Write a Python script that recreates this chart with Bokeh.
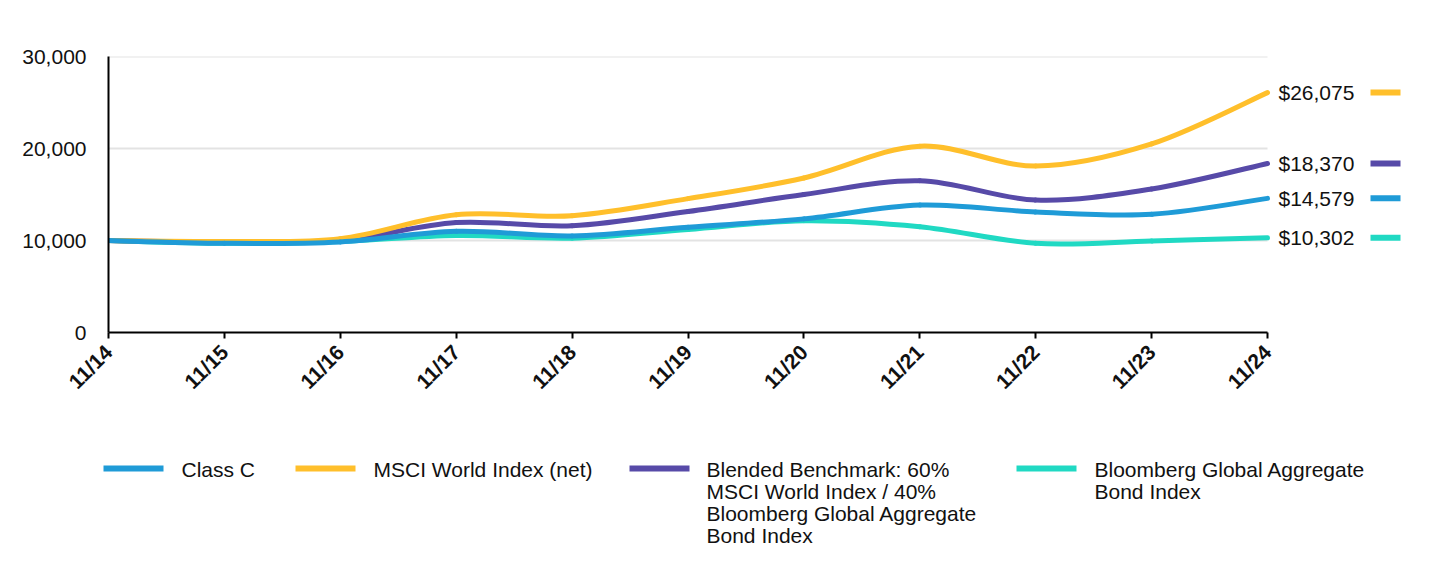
import math
from bokeh.plotting import figure
from bokeh.layouts import column
from bokeh.models import Range1d, FixedTicker, NumeralTickFormatter
from bokeh.core.properties import value
from bokeh.embed import file_html
from bokeh.resources import INLINE

# ---------------- data ----------------
dates = ["11/14", "11/15", "11/16", "11/17", "11/18", "11/19", "11/20", "11/21", "11/22", "11/23", "11/24"]
class_c = [10000, 9700, 9850, 11000, 10500, 11450, 12350, 13850, 13100, 12850, 14579]
msci_world = [10000, 9900, 10200, 12800, 12700, 14550, 16800, 20250, 18100, 20500, 26075]
blended = [10000, 9800, 10000, 11950, 11600, 13150, 15000, 16500, 14400, 15600, 18370]
bloomberg = [10000, 9700, 9900, 10550, 10250, 11200, 12150, 11500, 9700, 9950, 10302]
y_ticks = [0, 10000, 20000, 30000]

series_names = [
    "Class C",
    "MSCI World Index (net)",
    "Blended Benchmark: 60%\nMSCI World Index / 40%\nBloomberg Global Aggregate\nBond Index",
    "Bloomberg Global Aggregate\nBond Index",
]
series_values = [class_c, msci_world, blended, bloomberg]
series_colors = ["#1f9bd7", "#ffbf2b", "#574aa8", "#20d9c3"]

FONT = "Liberation Sans"

# ---------------- main chart ----------------
PX_PER_STEP = 115.9
LEFT = 108
TOP = 56
FRAME_W = 1316
FRAME_H = 276
BOTTOM = 86
x_idx = list(range(len(dates)))
x_end = FRAME_W / PX_PER_STEP

p = figure(
    output_backend="svg", toolbar_location=None,
    frame_width=FRAME_W, frame_height=FRAME_H,
    min_border_left=LEFT, min_border_right=8, min_border_top=TOP, min_border_bottom=BOTTOM,
    x_range=Range1d(0, x_end), y_range=Range1d(0, 30000),
)
p.frame_align = False
p.outline_line_color = None
p.xgrid.visible = False
p.ygrid.visible = False
p.background_fill_color = "white"
p.border_fill_color = "white"

# gridlines limited to the data span
for t in y_ticks[1:]:
    p.segment(x0=[x_idx[0]], y0=[t], x1=[x_idx[-1]], y1=[t], line_color="#e3e3e3", line_width=2)


def bezier_parts(xs, ys):
    n = len(xs)
    out = dict(x0=[], y0=[], x1=[], y1=[], cx0=[], cy0=[], cx1=[], cy1=[])
    for i in range(n - 1):
        xm1 = xs[i - 1] if i > 0 else xs[i]
        ym1 = ys[i - 1] if i > 0 else ys[i]
        xp2 = xs[i + 2] if i + 2 < n else xs[i + 1]
        yp2 = ys[i + 2] if i + 2 < n else ys[i + 1]
        out["x0"].append(xs[i]); out["y0"].append(ys[i])
        out["x1"].append(xs[i + 1]); out["y1"].append(ys[i + 1])
        out["cx0"].append(xs[i] + (xs[i + 1] - xm1) / 6.0)
        out["cy0"].append(ys[i] + (ys[i + 1] - ym1) / 6.0)
        out["cx1"].append(xs[i + 1] - (xp2 - xs[i]) / 6.0)
        out["cy1"].append(ys[i + 1] - (yp2 - ys[i]) / 6.0)
    return out


draw_order = [3, 2, 1, 0]
for k in draw_order:
    b = bezier_parts(x_idx, series_values[k])
    p.bezier(line_color=series_colors[k], line_width=5, line_cap="round", **b)

# end labels and swatches
seg_x0 = x_idx[-1] + 103 / PX_PER_STEP
seg_x1 = x_idx[-1] + 133 / PX_PER_STEP
for k in [1, 2, 0, 3]:
    last = series_values[k][-1]
    p.text(x=[x_idx[-1]], y=[last], text=["${:,}".format(last)], x_offset=11,
           text_baseline="middle", text_align="left", text_font=value(FONT),
           text_font_size="21px", text_color="#111111")
    p.segment(x0=[seg_x0], y0=[last], x1=[seg_x1], y1=[last], line_color=series_colors[k], line_width=6)

# axes
p.xaxis.ticker = FixedTicker(ticks=x_idx)
p.xaxis.major_label_overrides = {i: d for i, d in zip(x_idx, dates)}
p.xaxis.bounds = (x_idx[0], x_idx[-1])
p.xaxis.major_label_orientation = math.pi / 4
p.xaxis.major_label_text_font = FONT
p.xaxis.major_label_text_font_style = "bold"
p.xaxis.major_label_text_font_size = "21px"
p.xaxis.major_label_text_color = "#111111"
p.xaxis.axis_line_color = "black"
p.xaxis.axis_line_width = 2
p.xaxis.major_tick_line_color = "black"
p.xaxis.major_tick_line_width = 2
p.xaxis.major_tick_out = 6
p.xaxis.major_tick_in = 0
p.xaxis.minor_tick_line_color = None
p.xaxis.major_label_standoff = 10

p.yaxis.ticker = FixedTicker(ticks=y_ticks)
p.yaxis.formatter = NumeralTickFormatter(format="0,0")
p.yaxis.major_label_text_font = FONT
p.yaxis.major_label_text_font_size = "21px"
p.yaxis.major_label_text_color = "#111111"
p.yaxis.axis_line_color = "black"
p.yaxis.axis_line_width = 2
p.yaxis.major_tick_line_color = None
p.yaxis.major_tick_out = 0
p.yaxis.major_tick_in = 0
p.yaxis.minor_tick_line_color = None
p.yaxis.major_label_standoff = 22

# ---------------- legend (coordinates in page pixels) ----------------
LEG_TOP = TOP + FRAME_H + BOTTOM
LEG_W = 1432
LEG_H = 130
lg = figure(
    output_backend="svg", toolbar_location=None,
    width=LEG_W, height=LEG_H, min_border=0,
    x_range=Range1d(0, LEG_W), y_range=Range1d(LEG_TOP + LEG_H, LEG_TOP),
)
lg.frame_align = False
lg.outline_line_color = None
lg.axis.visible = False
lg.grid.visible = False

swatch_x = [103, 295, 629, 1016]
text_x = [181, 373, 706, 1094]
for k in range(4):
    lg.segment(x0=[swatch_x[k]], y0=[468], x1=[swatch_x[k] + 60], y1=[468],
               line_color=series_colors[k], line_width=6)
    for j, line in enumerate(series_names[k].split("\n")):
        lg.text(x=[text_x[k]], y=[469 + 22 * j], text=[line], text_baseline="middle",
                text_align="left", text_font=value(FONT), text_font_size="21px",
                text_color="#111111")

layout = column(p, lg, spacing=0)
open("out.html", "w").write(file_html(layout, INLINE))
